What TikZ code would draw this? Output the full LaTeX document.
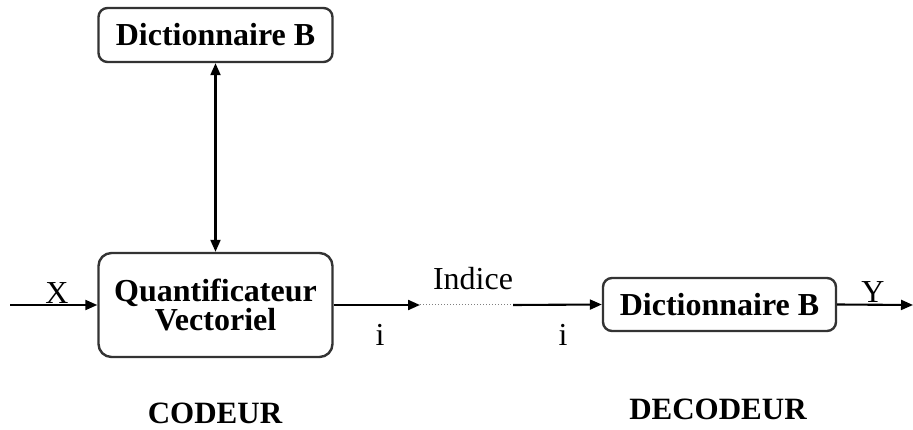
\documentclass[tikz,border=0pt]{standalone}
\usepackage{fontspec}
\setmainfont{Liberation Serif}
\newfontfamily\tnrfont{Liberation Serif}
\usetikzlibrary{arrows.meta}
\begin{document}
\begin{tikzpicture}[x=1pt,y=-1pt,
  box/.style={draw=black!80, line width=2.4pt, rounded corners=9pt, inner sep=0pt,
    font=\tnrfont\bfseries\fontsize{32}{29}\selectfont, align=center},
  conn/.style={line width=2.1pt, -{Triangle[length=12pt,width=10pt]}},
  lbl/.style={inner sep=0pt, font=\tnrfont\fontsize{32}{38}\selectfont},
  title/.style={inner sep=0pt, font=\tnrfont\bfseries\fontsize{31}{38}\selectfont}]
\useasboundingbox (0,0) rectangle (913,430);
\node[box, minimum width=234pt, minimum height=54pt] (top) at (215.5,35) {Dictionnaire B};
\node[box, minimum width=234pt, minimum height=104pt, rounded corners=13pt] (q) at (215.5,305) {Quantificateur\\Vectoriel};
\node[box, minimum width=233pt, minimum height=53pt] (dec) at (719.5,304.5) {Dictionnaire B};
\coordinate (xin) at (10,305);
\coordinate (d1) at (420,305);
\coordinate (d2) at (513,305);
\coordinate (yout) at (913,305);
\draw[line width=2.1pt, {Triangle[length=12pt,width=10pt]}-{Triangle[length=12pt,width=10pt]}] (top.south) -- (q.north);
\draw[conn] (xin) -- (q.west);
\draw[conn] (q.east) -- (d1);
\draw[line width=1pt, dotted, black!50] (d1) -- (d2);
\draw[conn] (d2) -- (dec.west);
\draw[conn] (dec.east) -- (yout);
\node[lbl] (lx) at (57,293) {X};
\node[lbl] (li1) at (380,335) {i};
\node[lbl] (lind) at (473,279) {Indice};
\node[lbl] (li2) at (563,335) {i};
\node[lbl] (ly) at (873,292) {Y};
\node[title] (cod) at (215,413) {CODEUR};
\node[title] (decod) at (718,409) {DECODEUR};
\end{tikzpicture}
\end{document}
